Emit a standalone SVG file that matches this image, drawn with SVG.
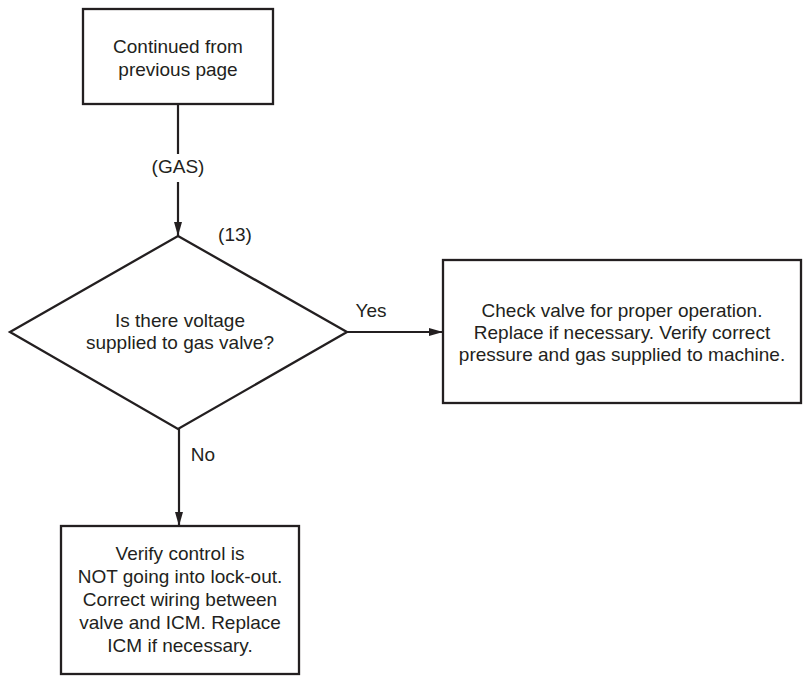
<svg xmlns="http://www.w3.org/2000/svg" width="804" height="677" viewBox="0 0 804 677">
<defs>
<style>
.box{fill:#fff;stroke:#231f20;stroke-width:2.3}
.ln{fill:none;stroke:#231f20;stroke-width:2.2}
.t{font-family:"Liberation Sans",Arial,sans-serif;font-size:19px;fill:#231f20;text-anchor:middle}
</style>
<marker id="ah" viewBox="0 0 14 8" refX="14" refY="4" markerWidth="14" markerHeight="8" markerUnits="userSpaceOnUse" orient="auto">
<path d="M0,0 L14,4 L0,8 Z" fill="#231f20"/>
</marker>
</defs>
<rect width="804" height="677" fill="#fff"/>
<g id="connectors">
<line class="ln" x1="178" y1="104" x2="178" y2="154"/>
<line class="ln" x1="178" y1="182" x2="178" y2="236" marker-end="url(#ah)"/>
<text class="t" x="178" y="173">(GAS)</text>
<line class="ln" x1="347" y1="332" x2="443" y2="332" marker-end="url(#ah)"/>
<text class="t" x="371" y="317">Yes</text>
<line class="ln" x1="179" y1="429" x2="179" y2="526" marker-end="url(#ah)"/>
<text class="t" x="203" y="461">No</text>
</g>
<g id="start">
<rect class="box" x="83" y="9" width="190" height="95"/>
<text class="t" x="178" y="53">Continued from</text>
<text class="t" x="178" y="76">previous page</text>
</g>
<g id="decision">
<polygon class="box" points="178,236 347,332 178,429 10,332"/>
<text class="t" x="235" y="241">(13)</text>
<text class="t" x="180" y="327">Is there voltage</text>
<text class="t" x="180" y="349">supplied to gas valve?</text>
</g>
<g id="yes-action">
<rect class="box" x="443" y="260" width="358" height="143"/>
<text class="t" x="622" y="317">Check valve for proper operation.</text>
<text class="t" x="622" y="339">Replace if necessary. Verify correct</text>
<text class="t" x="622" y="361">pressure and gas supplied to machine.</text>
</g>
<g id="no-action">
<rect class="box" x="61" y="526" width="238" height="148"/>
<text class="t" x="180" y="560">Verify control is</text>
<text class="t" x="180" y="583">NOT going into lock-out.</text>
<text class="t" x="180" y="606">Correct wiring between</text>
<text class="t" x="180" y="629">valve and ICM. Replace</text>
<text class="t" x="180" y="652">ICM if necessary.</text>
</g>
</svg>
